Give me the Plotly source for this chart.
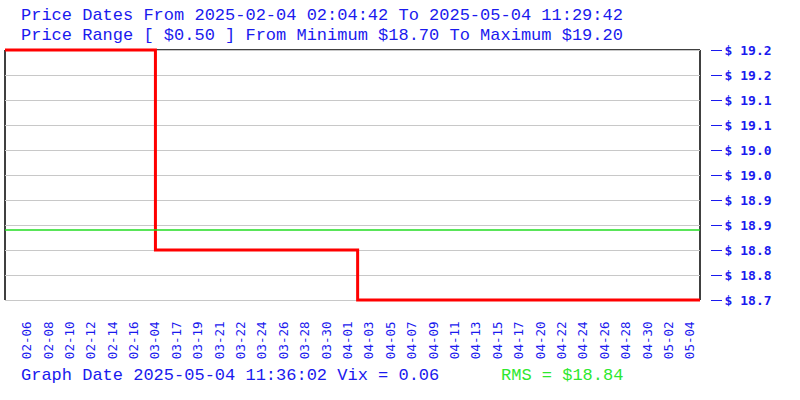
import plotly.graph_objects as go

# ---- data ----
date_labels = ["02-06", "02-08", "02-10", "02-12", "02-14", "02-16", "03-04", "03-17",
               "03-19", "03-21", "03-22", "03-24", "03-26", "03-28", "03-30", "04-01",
               "04-03", "04-05", "04-07", "04-09", "04-11", "04-13", "04-15", "04-17",
               "04-20", "04-22", "04-24", "04-26", "04-28", "04-30", "05-02", "05-04"]
label_index = list(range(len(date_labels)))

step_index = [-1.03, 6.0, 15.45, 31.45]
step_price = [19.20, 18.80, 18.70, 18.70]

rms_value = 18.84

price_min = 18.70
price_max = 19.20
price_ticks = [18.70, 18.75, 18.80, 18.85, 18.90, 18.95, 19.00, 19.05, 19.10, 19.15, 19.20]
price_tick_labels = ["$ 18.7", "$ 18.8", "$ 18.8", "$ 18.9", "$ 18.9", "$ 19.0",
                     "$ 19.0", "$ 19.1", "$ 19.1", "$ 19.2", "$ 19.2"]

title_line1 = "Price Dates From 2025-02-04 02:04:42 To 2025-05-04 11:29:42"
title_line2 = "Price Range [ $0.50 ] From Minimum $18.70 To Maximum $19.20"
footer_left = "Graph Date 2025-05-04 11:36:02 Vix = 0.06"
footer_right = "RMS = $18.84"

BLUE = "#1a1aee"
GREEN = "#2ee82e"
MONO = "Liberation Mono"

fig = go.Figure()

fig.add_trace(go.Scatter(
    x=step_index, y=step_price, mode="lines", line_shape="hv", cliponaxis=False,
    line=dict(color="#ff0000", width=3), showlegend=False, hoverinfo="skip"))

fig.add_hline(y=rms_value, line=dict(color="#22dd22", width=1.5))

plot_right_frac = 695 / 705
pad = 0.006  # small padding so the thick line at the range edges is not clipped

fig.update_layout(
    width=800, height=400,
    margin=dict(l=5, r=90, t=47, b=97, autoexpand=False),
    paper_bgcolor="white", plot_bgcolor="white",
    showlegend=False,
    xaxis=dict(
        domain=[0, plot_right_frac],
        range=[-1.03, 31.45],
        tickmode="array", tickvals=label_index, ticktext=date_labels,
        tickangle=-90,
        tickfont=dict(family="DejaVu Sans Mono", size=12.5, color=BLUE),
        ticks="", ticklabelstandoff=15, automargin=False,
        showgrid=False, zeroline=False, showline=False,
    ),
    yaxis=dict(
        anchor="free", position=1, side="right",
        range=[price_min - pad, price_max + pad],
        tickmode="array", tickvals=price_ticks, ticktext=price_tick_labels,
        tickfont=dict(family="DejaVu Sans Mono", size=13, color=BLUE, weight="bold"),
        ticks="outside", ticklen=11, tickwidth=1.2, tickcolor=BLUE,
        showgrid=True, gridcolor="#c8c8c8", gridwidth=1, automargin=False,
        zeroline=False, showline=False,
    ),
)

# plot frame: left, top, right in black
frame = [(0, price_min, 0, price_max),
         (0, price_max, plot_right_frac, price_max),
         (plot_right_frac, price_min, plot_right_frac, price_max)]
for x0, y0, x1, y1 in frame:
    fig.add_shape(type="line", xref="paper", yref="y", x0=x0, y0=y0, x1=x1, y1=y1,
                  line=dict(color="black", width=1.5), layer="below")

def ann(text, x, y, color):
    fig.add_annotation(text=text, xref="paper", yref="paper", x=x, y=y,
                       xanchor="left", yanchor="middle", showarrow=False,
                       font=dict(family=MONO, size=17, color=color))

# paper: x 5..710 -> 705 px, y 47..303 -> 256 px
def px_x(p):
    return (p - 5) / 705

def px_y(p):
    return (303 - p) / 256

ann(title_line1, px_x(19), px_y(15), BLUE)
ann(title_line2, px_x(19), px_y(35), BLUE)
ann(footer_left, px_x(19), px_y(375), BLUE)
ann(footer_right, px_x(499), px_y(375), GREEN)

fig.write_html("out.html", config={"displayModeBar": False},
               post_script="document.body.style.margin='0';document.body.style.overflow='hidden';")
